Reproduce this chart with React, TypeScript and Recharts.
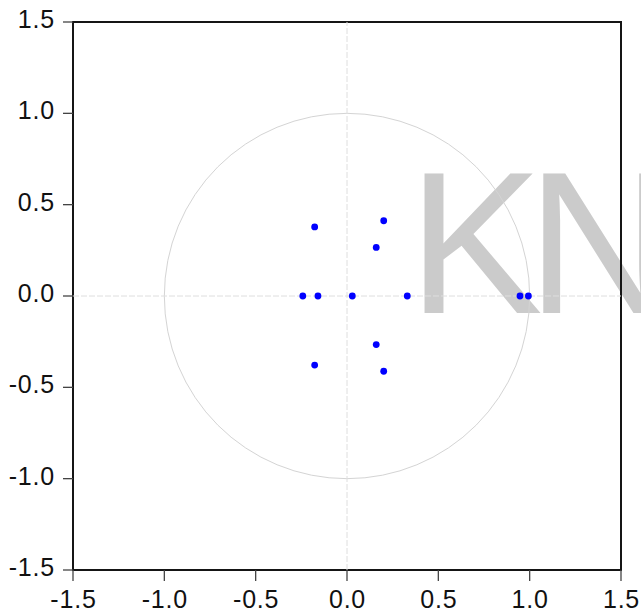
import React from "react";
import {
  ScatterChart,
  Scatter,
  XAxis,
  YAxis,
  ReferenceLine,
  ReferenceArea,
} from "recharts";

const rootReal = [-0.177, -0.177, 0.201, 0.201, 0.16, 0.16, -0.242, -0.159, 0.029, 0.33, 0.947, 0.993];
const rootImag = [0.378, -0.378, 0.412, -0.412, 0.266, -0.266, 0, 0, 0, 0, 0, 0];

const axisTicks = [-1.5, -1.0, -0.5, 0.0, 0.5, 1.0, 1.5];
const axisDomain: [number, number] = [-1.5, 1.5];
const unitRadius = 1;

const points = rootReal.map((re, i) => ({ x: re, y: rootImag[i] }));

const FONT = "'Liberation Sans', Arial, Helvetica, sans-serif";

const YTick = (props: any) => {
  const { x, y, payload } = props;
  return (
    <text
      x={x}
      y={y + 6}
      textAnchor="end"
      fontSize={25}
      fontFamily={FONT}
      letterSpacing={0.8}
      fill="#111"
    >
      {Number(payload.value).toFixed(1)}
    </text>
  );
};

const XTick = (props: any) => {
  const { x, y, payload } = props;
  return (
    <text
      x={x + 0.5}
      y={y + 17.5}
      textAnchor="middle"
      fontSize={25}
      fontFamily={FONT}
      letterSpacing={0.8}
      fill="#111"
    >
      {Number(payload.value).toFixed(1)}
    </text>
  );
};

const Dot = (props: any) => {
  const { cx, cy } = props;
  return <circle cx={cx} cy={cy} r={3.4} fill="#0000ff" />;
};

const CircleShape = (props: any) => {
  const { x, y, width, height } = props;
  return (
    <ellipse
      cx={x + width / 2}
      cy={y + height / 2}
      rx={Math.abs(width) / 2}
      ry={Math.abs(height) / 2}
      fill="none"
      stroke="#d4d4d4"
      strokeWidth={1}
    />
  );
};

const FrameShape = (props: any) => {
  const { x, y, width, height } = props;
  return (
    <rect
      x={x}
      y={y}
      width={width}
      height={height}
      fill="none"
      stroke="#151515"
      strokeWidth={2}
    />
  );
};

export default function App() {
  return (
    <div style={{ position: "absolute", left: 0, top: 0, width: 641, height: 613, background: "#fff" }}>
      <svg
        width={641}
        height={613}
        style={{ position: "absolute", left: 0, top: 0 }}
      >
        <text x={408} y={313} fontSize={202} fontFamily={FONT} letterSpacing={-16} fill="#cbcbcb">
          KN
        </text>
      </svg>
      <div style={{ position: "absolute", left: 0, top: 0 }}>
        <ScatterChart
          width={641}
          height={613}
          margin={{ top: 22, right: 20, bottom: 0, left: 0 }}
        >
          <XAxis
            type="number"
            dataKey="x"
            domain={axisDomain}
            ticks={axisTicks}
            allowDataOverflow
            height={43}
            tickSize={11}
            tickMargin={9}
            axisLine={false}
            tickLine={{ stroke: "#444", strokeWidth: 1.3 }}
            tick={<XTick />}
            interval={0}
          />
          <YAxis
            type="number"
            dataKey="y"
            domain={axisDomain}
            ticks={axisTicks}
            allowDataOverflow
            width={73}
            tickSize={10}
            tickMargin={8}
            axisLine={false}
            tickLine={{ stroke: "#444", strokeWidth: 1.3 }}
            tick={<YTick />}
            interval={0}
          />
          <ReferenceArea
            x1={-unitRadius}
            x2={unitRadius}
            y1={-unitRadius}
            y2={unitRadius}
            shape={<CircleShape />}
          />
          <ReferenceLine x={0} stroke="#dedede" strokeWidth={1} strokeDasharray="6 2" />
          <ReferenceLine y={0} stroke="#dedede" strokeWidth={1} strokeDasharray="6 2" />
          <ReferenceArea
            x1={axisDomain[0]}
            x2={axisDomain[1]}
            y1={axisDomain[0]}
            y2={axisDomain[1]}
            shape={<FrameShape />}
          />
          <Scatter data={points} shape={<Dot />} isAnimationActive={false} />
        </ScatterChart>
      </div>
    </div>
  );
}
